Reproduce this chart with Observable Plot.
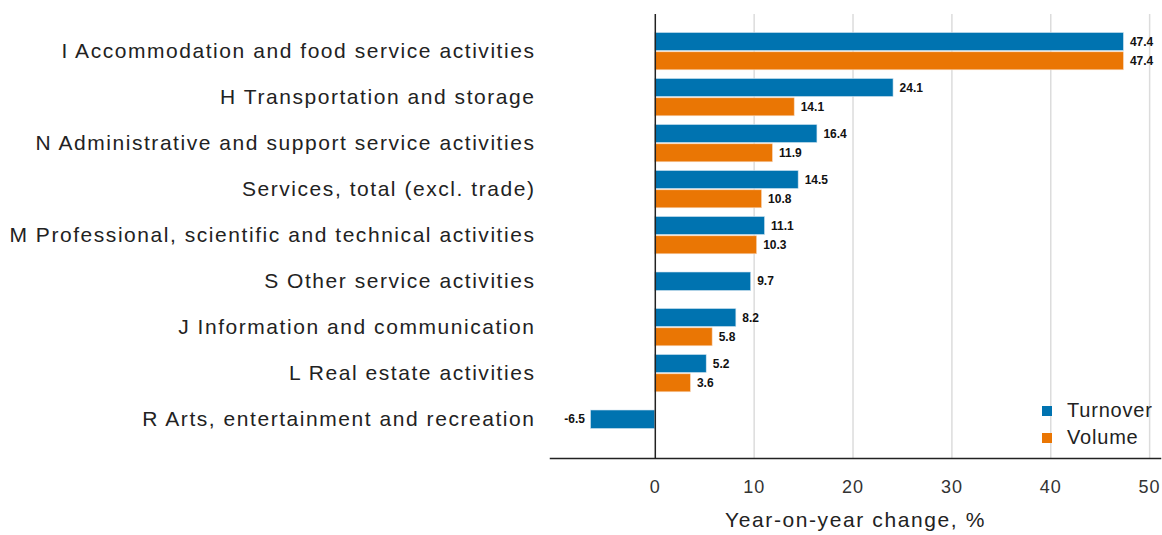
<!DOCTYPE html>
<html>
<head>
<meta charset="utf-8">
<script src="https://cdn.jsdelivr.net/npm/d3@7"></script>
<script src="https://cdn.jsdelivr.net/npm/@observablehq/plot@0.6"></script>
<style>
  html, body { margin: 0; padding: 0; background: #fff; }
  #wrap { position: relative; width: 1162px; height: 535px; font-family: "Liberation Sans", Arial, sans-serif; }
  #legend { position: absolute; left: 1042px; top: 397px; font-size: 20px; letter-spacing: 0.8px; color: #222; line-height: 27px; }
  #legend .item { display: flex; align-items: center; }
  #legend .sw { width: 10px; height: 10px; margin-right: 15px; display: inline-block; }
  #wrap svg g[aria-label="y-axis tick label"] text { letter-spacing: 1.55px; }
  #wrap svg g[aria-label="x-axis tick label"] text { letter-spacing: 1px; }
  #wrap svg g.xtitle text { letter-spacing: 1.6px; }
</style>
</head>
<body>
<div id="wrap"></div>
<script>
const categories = [
  "I Accommodation and food service activities",
  "H Transportation and storage",
  "N Administrative and support service activities",
  "Services, total (excl. trade)",
  "M Professional, scientific and technical activities",
  "S Other service activities",
  "J Information and communication",
  "L Real estate activities",
  "R Arts, entertainment and recreation"
];
const turnover = [47.4, 24.1, 16.4, 14.5, 11.1, 9.7, 8.2, 5.2, -6.5];
const volume   = [47.4, 14.1, 11.9, 10.8, 10.3, null, 5.8, 3.6, null];
const seriesNames = ["Turnover", "Volume"];
const colors = ["#0073b0", "#ea7604"];
const xTicks = [0, 10, 20, 30, 40, 50];
const gridTicks = [10, 20, 30, 40, 50];

const rows = categories.map((c, i) => ({cat: c, t: turnover[i], v: volume[i], paired: volume[i] != null}));
const tPaired = rows.filter(d => d.paired);
const tAlone = rows.filter(d => !d.paired);
const vRows = rows.filter(d => d.paired);

const fmt = v => v.toFixed(1);
const labelFont = {fontSize: 12, fontWeight: "bold", fill: "#111"};

const chart = Plot.plot({
  width: 1162,
  height: 535,
  marginLeft: 550,
  marginRight: 2,
  marginTop: 14,
  marginBottom: 77,
  style: {fontFamily: "Liberation Sans, Arial, sans-serif", background: "#fff", color: "#222"},
  x: {domain: [-10.6, 51.1], ticks: xTicks, tickSize: 0, tickPadding: 22, label: null},
  y: {domain: categories, padding: 0, insetTop: 11.5, insetBottom: 13, label: null},
  marks: [
    Plot.ruleX(gridTicks, {stroke: "#dcdcdc", strokeWidth: 1.5}),
    Plot.barX(tPaired, {y: "cat", x1: 0, x2: "t", fill: colors[0], insetTop: 4.5, insetBottom: 23.5, stroke: "#cfe3f0", strokeWidth: 0.6}),
    Plot.barX(vRows, {y: "cat", x1: 0, x2: "v", fill: colors[1], insetTop: 23.8, insetBottom: 4.2, stroke: "#f7d9bf", strokeWidth: 0.6}),
    Plot.barX(tAlone, {y: "cat", x1: 0, x2: "t", fill: colors[0], insetTop: 14, insetBottom: 13.5, stroke: "#cfe3f0", strokeWidth: 0.6}),
    Plot.ruleX([0], {stroke: "#222", strokeWidth: 1.5}),
    Plot.frame({anchor: "bottom", stroke: "#222", strokeWidth: 1.5}),
    Plot.axisX({ticks: xTicks, tickSize: 0, tickPadding: 22, fontSize: 18, fill: "#333", label: null}),
    Plot.axisY({tickSize: 0, tickPadding: 15, fontSize: 21, fill: "#222", label: null}),
    Plot.text(tPaired, {y: "cat", x: "t", text: d => fmt(d.t), dx: 6, dy: -9.5, textAnchor: "start", ...labelFont}),
    Plot.text(vRows, {y: "cat", x: "v", text: d => fmt(d.v), dx: 6, dy: 9.5, textAnchor: "start", ...labelFont}),
    Plot.text(tAlone, {y: "cat", x: "t", text: d => fmt(d.t), textAnchor: "start", ...labelFont, filter: d => d.t >= 0, dx: 6}),
    Plot.text(tAlone, {y: "cat", x: "t", text: d => fmt(d.t), textAnchor: "end", ...labelFont, filter: d => d.t < 0, dx: -6}),
    Plot.text(["Year-on-year change, %"], {frameAnchor: "bottom", dy: 68, fontSize: 21, fill: "#222", className: "xtitle"})
  ]
});

const wrap = document.getElementById("wrap");
wrap.appendChild(chart);

const legend = document.createElement("div");
legend.id = "legend";
seriesNames.forEach((name, i) => {
  const item = document.createElement("div");
  item.className = "item";
  const sw = document.createElement("span");
  sw.className = "sw";
  sw.style.background = colors[i];
  const lab = document.createElement("span");
  lab.textContent = name;
  item.appendChild(sw);
  item.appendChild(lab);
  legend.appendChild(item);
});
wrap.appendChild(legend);
</script>
</body>
</html>
